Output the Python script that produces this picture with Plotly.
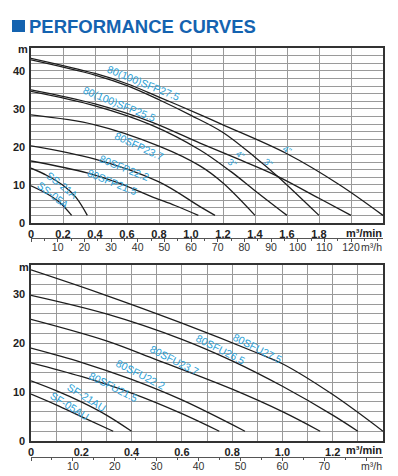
import plotly.graph_objects as go

# ---------------- Top chart: 80(100)SFP / SS series (flow m3/min, head m) -------------
top_curves = {
    "80(100)SFP27.5 4\"": ([0, 0.4, 0.6, 0.8, 1.056, 1.2, 1.6, 1.93, 2.2],
                           [43.3, 39.3, 36.6, 33.1, 28.5, 25.8, 18.2, 10.0, 2.0]),
    "80(100)SFP27.5 3\"": ([0, 0.4, 0.6, 0.8, 1.0, 1.2, 1.4, 1.535, 1.8],
                           [42.9, 38.9, 36.1, 32.4, 28.3, 23.8, 17.3, 12.5, 2.0]),
    "80(100)SFP25.5 4\"": ([0, 0.4, 0.75, 1.056, 1.3, 1.535, 1.8, 2.0],
                           [35.0, 31.3, 26.6, 21.0, 16.7, 12.4, 6.5, 2.0]),
    "80(100)SFP25.5 3\"": ([0, 0.4, 0.75, 1.056, 1.25, 1.4, 1.6],
                           [34.6, 30.8, 25.8, 19.2, 13.5, 8.5, 2.0]),
    "80SFP23.7": ([0, 0.4, 0.8, 1.056, 1.2, 1.4],
                  [28.4, 25.8, 20.2, 15.0, 10.5, 2.0]),
    "80SFP22.2": ([0, 0.4, 0.8, 1.056, 1.15],
                  [20.3, 16.8, 10.8, 4.3, 2.0]),
    "80SFP21.5": ([0, 0.35, 0.55, 0.75, 0.9, 1.046],
                  [16.3, 13.2, 10.5, 7.0, 4.6, 2.0]),
    "SS-21A": ([0, 0.1, 0.2, 0.28, 0.352],
               [14.4, 12.5, 9.9, 6.8, 2.0]),
    "SS-05A": ([0, 0.1, 0.18, 0.254],
               [9.8, 7.7, 5.4, 2.0]),
}

top_label_text = ["80(100)SFP27.5", "80(100)SFP25.5", "80SFP23.7", "80SFP22.2",
                  "80SFP21.5", "SS-21A", "SS-05A", "3\"", "4\"", "3\"", "4\""]
top_label_q = [0.706, 0.556, 0.675, 0.587, 0.51, 0.195, 0.14, 1.255, 1.306, 1.483, 1.602]
top_label_h = [36.8, 31.4, 20.3, 14.5, 10.8, 10.0, 7.4, 15.7, 17.9, 15.7, 19.2]
top_label_angle = [22, 22, 25, 22, 22, 38, 38, 35, 35, 35, 30]

top_x_ticks = [0, 0.2, 0.4, 0.6, 0.8, 1.0, 1.2, 1.4, 1.6, 1.8, 2.0]
top_x_text = ["0", "0.2", "0.4", "0.6", "0.8", "1.0", "1.2", "1.4", "1.6", "1.8", ""]
top_h_ticks = list(range(0, 46, 2))
top_h_labels = {0: "0", 10: "10", 20: "20", 30: "30", 40: "40"}
top_m3h_ticks = [0, 10, 20, 30, 40, 50, 60, 70, 80, 90, 100, 110, 120]
top_m3h_text = ["", "10", "20", "30", "40", "50", "60", "70", "80", "90", "100", "110", "120"]

# ---------------- Bottom chart: 80SFU / SF series -------------
bot_curves = {
    "80SFU27.5": ([0, 0.27, 0.6, 0.9, 1.0, 1.2, 1.4],
                  [35.0, 30.3, 24.1, 18.0, 15.8, 9.5, 2.0]),
    "80SFU26.5": ([0, 0.3, 0.6, 0.8, 1.0, 1.2, 1.3],
                  [29.8, 26.0, 20.8, 16.4, 11.2, 5.3, 2.0]),
    "80SFU23.7": ([0, 0.3, 0.5, 0.8, 1.0, 1.15],
                  [24.9, 20.5, 16.6, 10.6, 6.0, 2.0]),
    "80SFU22.2": ([0, 0.2, 0.4, 0.6, 0.851],
                  [19.0, 16.1, 12.6, 8.4, 2.0]),
    "80SFU21.5": ([0, 0.2, 0.4, 0.6, 0.749],
                  [16.0, 13.2, 9.8, 5.6, 2.0]),
    "SF-21AU": ([0, 0.1, 0.2, 0.3, 0.4],
                [12.3, 10.3, 8.0, 5.3, 2.0]),
    "SF-05AU": ([0, 0.1, 0.2, 0.327],
                [9.6, 7.4, 5.0, 2.0]),
}

bot_label_text = ["80SFU27.5", "80SFU26.5", "80SFU23.7", "80SFU22.2", "80SFU21.5",
                  "SF-21AU", "SF-05AU"]
bot_label_q = [0.9, 0.752, 0.57, 0.434, 0.33, 0.219, 0.155]
bot_label_h = [19.0, 18.8, 16.6, 13.7, 11.1, 8.9, 7.1]
bot_label_angle = [27, 27, 27, 27, 27, 32, 32]

bot_x_ticks = [0, 0.1, 0.2, 0.3, 0.4, 0.5, 0.6, 0.7, 0.8, 0.9, 1.0, 1.1, 1.2, 1.3]
bot_x_text = ["0", "", "0.2", "", "0.4", "", "0.6", "", "0.8", "", "1.0", "", "1.2", ""]
bot_h_ticks = list(range(0, 36, 2))
bot_h_labels = {0: "0", 10: "10", 20: "20", 30: "30"}
bot_m3h_ticks = [0, 10, 20, 30, 40, 50, 60, 70, 80]
bot_m3h_text = ["", "10", "20", "30", "40", "50", "60", "70", ""]

TOP_QMAX, TOP_HMAX = 2.2, 46
BOT_QMAX, BOT_HMAX = 1.4, 36
M3H_PER_M3MIN = 60

# ---------------- styling -------------
FONT = "Liberation Sans"
CURVE_COLOR = "#1e1e1e"
LABEL_COLOR = "#2c9fd6"
GRID_COLOR = "#9a9a9a"
BORDER_COLOR = "#333333"
TITLE_COLOR = "#1463b0"

W, H = 398, 476
ML, MR, MT, MB = 31, 15, 48, 10
PH = H - MT - MB  # paper height in px


def fy(py):
    return (H - MB - py) / PH


def fx(px):
    return (px - ML) / (W - ML - MR)


fig = go.Figure()

for name, (q, h) in top_curves.items():
    fig.add_trace(go.Scatter(x=q, y=h, mode="lines", name=name, xaxis="x", yaxis="y",
                             line=dict(color=CURVE_COLOR, width=1.3, shape="spline",
                                       smoothing=1.0),
                             hoverinfo="name", showlegend=False))
for name, (q, h) in bot_curves.items():
    fig.add_trace(go.Scatter(x=q, y=h, mode="lines", name=name, xaxis="x2", yaxis="y2",
                             line=dict(color=CURVE_COLOR, width=1.3, shape="spline",
                                       smoothing=1.0),
                             hoverinfo="name", showlegend=False))
# helper (empty) traces so the m3/h axes are drawn
fig.add_trace(go.Scatter(x=[], y=[], xaxis="x3", yaxis="y", showlegend=False))
fig.add_trace(go.Scatter(x=[], y=[], xaxis="x4", yaxis="y2", showlegend=False))

grid_axis = dict(showgrid=True, gridcolor=GRID_COLOR, gridwidth=1, zeroline=False,
                 showline=True, mirror=True, linecolor=BORDER_COLOR, linewidth=1.6,
                 ticks="", automargin=False, fixedrange=True,
                 tickfont=dict(family=FONT, size=11, color="#222", weight="bold"))

m3h_axis = dict(showgrid=False, zeroline=False, showline=True, linecolor="#555",
                linewidth=1, ticks="outside", ticklen=3, tickcolor="#555", tickwidth=1,
                minor=dict(ticks="outside", ticklen=2, dtick=5, tick0=0,
                           tickcolor="#555", showgrid=False),
                ticklabelstandoff=-4,
                anchor="free", side="bottom", automargin=False, fixedrange=True,
                tickfont=dict(family=FONT, size=10.5, color="#333"))

top_dom = [fy(223), 1.0]
bot_dom = [fy(441), fy(265)]

fig.update_layout(
    width=W, height=H,
    margin=dict(l=ML, r=MR, t=MT, b=MB),
    paper_bgcolor="white", plot_bgcolor="white",
    xaxis=dict(grid_axis, range=[0, TOP_QMAX], domain=[0, 1], anchor="y",
               tickvals=top_x_ticks, ticktext=top_x_text),
    yaxis=dict(grid_axis, range=[0, TOP_HMAX], domain=top_dom, anchor="x",
               tickvals=top_h_ticks,
               ticktext=[top_h_labels.get(v, "") for v in top_h_ticks],
               ticklabelstandoff=2),
    xaxis2=dict(grid_axis, range=[0, BOT_QMAX], domain=[0, 1], anchor="y2",
                tickvals=bot_x_ticks, ticktext=bot_x_text),
    yaxis2=dict(grid_axis, range=[0, BOT_HMAX], domain=bot_dom, anchor="x2",
                tickvals=bot_h_ticks,
                ticktext=[bot_h_labels.get(v, "") for v in bot_h_ticks],
                ticklabelstandoff=2),
    xaxis3=dict(m3h_axis, overlaying="x", domain=[0, 1], position=fy(238),
                range=[0, TOP_QMAX * M3H_PER_M3MIN], tickvals=top_m3h_ticks,
                ticktext=top_m3h_text),
    xaxis4=dict(m3h_axis, overlaying="x2", domain=[0, 1], position=fy(457),
                range=[0, BOT_QMAX * M3H_PER_M3MIN], tickvals=bot_m3h_ticks,
                ticktext=bot_m3h_text),
    showlegend=False,
)

annotations = []
for t, q, h, a in zip(top_label_text, top_label_q, top_label_h, top_label_angle):
    small = t in ("3\"", "4\"")
    annotations.append(dict(x=q, y=h, xref="x", yref="y", text=t, showarrow=False,
                            textangle=a, xanchor="center", yanchor="middle",
                            font=dict(family=FONT, size=9 if small else 10.5,
                                      color=LABEL_COLOR)))
for t, q, h, a in zip(bot_label_text, bot_label_q, bot_label_h, bot_label_angle):
    annotations.append(dict(x=q, y=h, xref="x2", yref="y2", text=t, showarrow=False,
                            textangle=a, xanchor="center", yanchor="middle",
                            font=dict(family=FONT, size=10.5, color=LABEL_COLOR)))

unit_bold = dict(family=FONT, size=11, color="#222", weight="bold")
unit_norm = dict(family=FONT, size=10.5, color="#333")
annotations += [
    dict(x=fx(23), y=fy(49), xref="paper", yref="paper", text="m", showarrow=False,
         xanchor="center", yanchor="middle", font=unit_bold),
    dict(x=fx(24), y=fy(267), xref="paper", yref="paper", text="m", showarrow=False,
         xanchor="center", yanchor="middle", font=unit_bold),
    dict(x=fx(384), y=fy(233), xref="paper", yref="paper", text="m³/min",
         showarrow=False, xanchor="right", yanchor="middle", font=unit_bold),
    dict(x=fx(384), y=fy(450), xref="paper", yref="paper", text="m³/min",
         showarrow=False, xanchor="right", yanchor="middle", font=unit_bold),
    dict(x=fx(384), y=fy(247), xref="paper", yref="paper", text="m³/h",
         showarrow=False, xanchor="right", yanchor="middle", font=unit_norm),
    dict(x=fx(384), y=fy(465.5), xref="paper", yref="paper", text="m³/h",
         showarrow=False, xanchor="right", yanchor="middle", font=unit_norm),
    dict(x=fx(27), y=fy(26), xref="paper", yref="paper", text="PERFORMANCE CURVES",
         showarrow=False, xanchor="left", yanchor="middle",
         font=dict(family=FONT, size=18.5, color=TITLE_COLOR, weight="bold")),
]
fig.update_layout(annotations=annotations)

fig.add_shape(type="rect", xref="paper", yref="paper",
              x0=fx(12), x1=fx(25), y0=fy(32), y1=fy(20),
              fillcolor=TITLE_COLOR, line=dict(width=0))

fig.write_html("out.html", config={"displayModeBar": False, "staticPlot": True},
               post_script="document.body.style.margin='0';")
